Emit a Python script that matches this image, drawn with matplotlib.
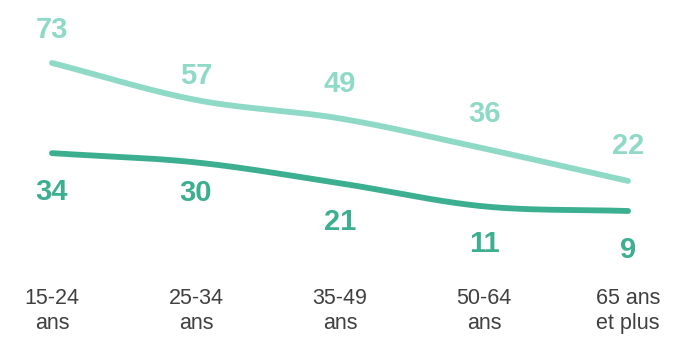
import numpy as np
import matplotlib.pyplot as plt

plt.rcParams['font.family'] = ['Liberation Sans', 'DejaVu Sans']

categories = ["15-24\nans", "25-34\nans", "35-49\nans", "50-64\nans", "65 ans\net plus"]
serie_haut = [73, 57, 49, 36, 22]
serie_bas = [34, 30, 21, 11, 9]

clair = "#8fd9c7"
fonce = "#3daf91"


def lisse(x, y, n=40):
    # courbe lissée type Catmull-Rom entre les points
    x = np.asarray(x, float)
    y = np.asarray(y, float)
    px = np.concatenate([[2 * x[0] - x[1]], x, [2 * x[-1] - x[-2]]])
    py = np.concatenate([[2 * y[0] - y[1]], y, [2 * y[-1] - y[-2]]])
    xs, ys = [], []
    t = np.linspace(0, 1, n)
    for i in range(1, len(px) - 2):
        for p, out in ((px, xs), (py, ys)):
            p0, p1, p2, p3 = p[i - 1], p[i], p[i + 1], p[i + 2]
            out.extend(0.5 * ((2 * p1) + (-p0 + p2) * t
                              + (2 * p0 - 5 * p1 + 4 * p2 - p3) * t ** 2
                              + (-p0 + 3 * p1 - 3 * p2 + p3) * t ** 3))
    return np.array(xs), np.array(ys)


fig = plt.figure(figsize=(6.92, 3.46), dpi=100)
ax = fig.add_axes([0, 0.22, 1, 0.78])
x = np.arange(len(categories))

for vals, col in ((serie_haut, clair), (serie_bas, fonce)):
    sx, sy = lisse(x, vals)
    ax.plot(sx, sy, color=col, lw=4.2, solid_capstyle='round')

off_haut = [24, 17, 25, 25, 25]
off_bas = [-28, -22, -28, -27, -28]
for i in range(len(categories)):
    ax.annotate(str(serie_haut[i]), (x[i], serie_haut[i]), xytext=(0, off_haut[i]),
                textcoords='offset points', ha='center', va='center',
                fontsize=21, fontweight='bold', color=clair)
    ax.annotate(str(serie_bas[i]), (x[i], serie_bas[i]), xytext=(0, off_bas[i]),
                textcoords='offset points', ha='center', va='center',
                fontsize=21, fontweight='bold', color=fonce)

ax.set_xlim(-0.361, 4.444)
ax.set_ylim(-16.45, 100.2)
ax.set_xticks(x)
ax.set_xticklabels(categories, fontsize=15.5, color="#404040", linespacing=1.25)
ax.tick_params(axis='x', length=0, pad=13)
ax.set_yticks([])
for s in ax.spines.values():
    s.set_visible(False)

fig.savefig("out.png", dpi=100)
